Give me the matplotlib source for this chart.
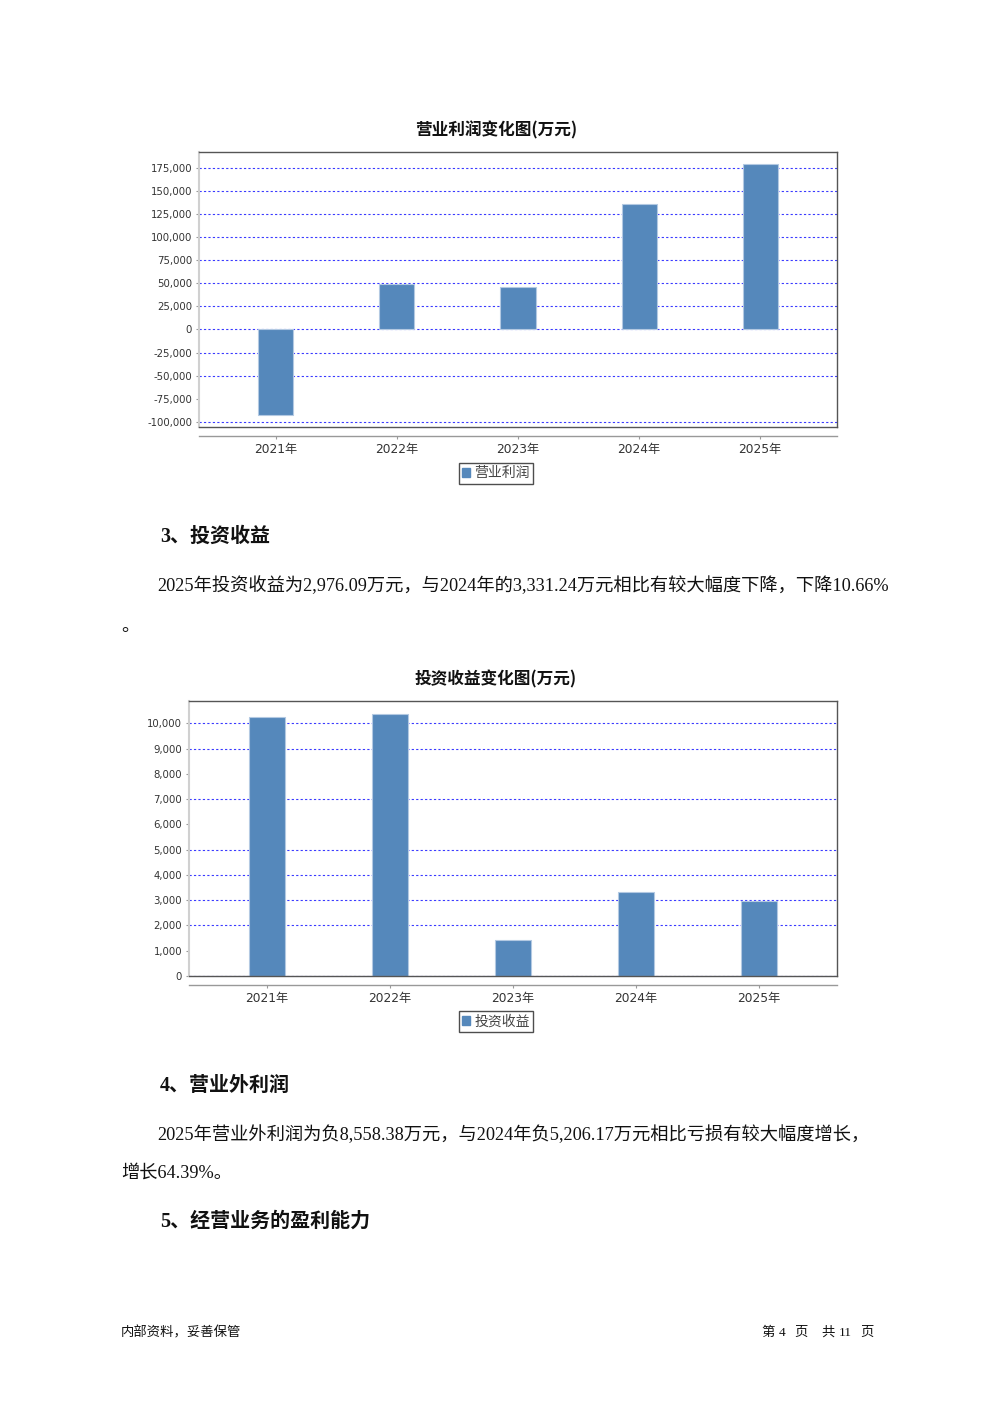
import matplotlib
matplotlib.use('Agg')
import matplotlib.pyplot as plt
from matplotlib.patches import Rectangle
from matplotlib.ticker import FuncFormatter

# ---------------- data ----------------
years = ['2021年', '2022年', '2023年', '2024年', '2025年']
op_profit = [-92200, 49000, 45700, 136100, 178900]          # 营业利润 (万元)
inv_income = [10250, 10370, 1415, 3331.24, 2976.09]         # 投资收益 (万元)
op_ticks = list(range(-100000, 175001, 25000))
inv_ticks = list(range(0, 10001, 1000))
op_hidden_grid = [-75000]
inv_hidden_grid = [8000, 6000, 1000]

title1 = '营业利润变化图(万元)'
title2 = '投资收益变化图(万元)'
legend1 = '营业利润'
legend2 = '投资收益'

heading3 = '3、投资收益'
para3 = '2025年投资收益为2,976.09万元，与2024年的3,331.24万元相比有较大幅度下降，下降10.66%'
para3_tail = '。'
heading4 = '4、营业外利润'
para4 = '2025年营业外利润为负8,558.38万元，与2024年负5,206.17万元相比亏损有较大幅度增长，'
para4_tail = '增长64.39%。'
heading5 = '5、经营业务的盈利能力'
footer_left = '内部资料，妥善保管'
footer_right = ['第', '4', '页', '共', '11', '页']

# ---------------- style ----------------
CJK = ['Noto Sans CJK SC', 'DejaVu Sans']
SANS = ['DejaVu Sans', 'Noto Sans CJK SC']
SERIF = ['Liberation Serif', 'Noto Sans CJK SC']
plt.rcParams['font.family'] = SANS

W, H = 992, 1403
fig = plt.figure(figsize=(W / 100, H / 100), dpi=100)
fig.patch.set_facecolor('white')

BAR = '#5588bb'
GRID = '#3a3aff'
PX = 72 / 100  # points per pixel


def fy(y):
    return 1 - y / H


def make_chart(rect_px, values, ticks, hidden, title, title_y, legend_label, legend_y):
    l, t, r, b = rect_px
    ax = fig.add_axes([l / W, 1 - b / H, (r - l) / W, (b - t) / H])
    xs = list(range(len(years)))
    ax.bar(xs, values, width=0.29, color=BAR, edgecolor='#b3c9e2',
           linewidth=0.8, zorder=3)
    vmin = min(0, min(values))
    vmax = max(values)
    span = vmax - vmin
    lo = vmin - 0.05 * span if vmin < 0 else 0
    ax.set_ylim(lo, vmax + 0.05 * span)
    ax.set_xlim(-0.635, len(years) - 1 + 0.635)
    ax.set_yticks(ticks)
    ax.yaxis.set_major_formatter(FuncFormatter(lambda v, p: f'{v:,.0f}'.replace('\u2212', '-')))
    for v in ticks:
        if v in hidden:
            continue
        ax.axhline(v, color=GRID, linestyle=(0, (2, 2)), linewidth=0.8, zorder=1)
    ax.set_xticks(xs)
    ax.set_xticklabels(years)
    ax.tick_params(axis='y', length=2, width=0.8, color='#999999', pad=3,
                   labelsize=7.3, labelcolor='#333333')
    ax.tick_params(axis='x', length=2, width=0.8, color='#999999', pad=3.2,
                   labelsize=8.8, labelcolor='#333333')
    for s in ('top', 'right'):
        ax.spines[s].set_color('#555555')
        ax.spines[s].set_linewidth(1)
    ax.spines['left'].set_color('#d0d0d0')
    ax.spines['left'].set_linewidth(1.5)
    ax.spines['bottom'].set_position(('outward', 9 * PX))
    ax.spines['bottom'].set_color('#999999')
    ax.spines['bottom'].set_linewidth(1)
    ax.plot([0, 1], [0, 0], transform=ax.transAxes, color='#555555',
            linewidth=1, clip_on=False, zorder=5)
    fig.text(496 / W, fy(title_y), title, ha='center', va='center',
             fontsize=12, fontweight='bold', fontfamily=CJK, color='#111111')
    leg = fig.legend([Rectangle((0, 0), 1, 1, color=BAR)], [legend_label],
                     loc='upper center', bbox_to_anchor=(496 / W, fy(legend_y)),
                     frameon=True, fancybox=False, handlelength=0.6,
                     handleheight=0.6, handletextpad=0.3, borderpad=0.25,
                     borderaxespad=0, prop={'family': CJK, 'size': 10})
    leg.get_frame().set_edgecolor('#222222')
    leg.get_frame().set_linewidth(1)
    for txt in leg.get_texts():
        txt.set_color('#444444')
    return ax


make_chart((199, 152, 837, 427), op_profit, op_ticks, op_hidden_grid,
           title1, 130, legend1, 463)
make_chart((189, 701, 837, 976), inv_income, inv_ticks, inv_hidden_grid,
           title2, 679, legend2, 1011)

# ---------------- body text ----------------
HEAD = dict(fontsize=14.4, fontweight='bold', fontfamily=SERIF, va='center', color='#111111')
BODY = dict(fontsize=13.15, fontfamily=SERIF, va='center', color='#111111')
FOOT = dict(fontsize=9.6, fontfamily=SERIF, va='center', color='#111111')

fig.text(160 / W, fy(537), heading3, **HEAD)
fig.text(157 / W, fy(586), para3, **BODY)
fig.text(121 / W, fy(626), para3_tail, **BODY)
fig.text(160 / W, fy(1086), heading4, **HEAD)
fig.text(157 / W, fy(1135), para4, **BODY)
fig.text(121 / W, fy(1173), para4_tail, **BODY)
fig.text(160 / W, fy(1222), heading5, **HEAD)
fig.text(121 / W, fy(1333), footer_left, **FOOT)
for s, x in zip(footer_right, [761, 779, 794, 821, 839, 860]):
    fig.text(x / W, fy(1333), s, **FOOT)

fig.savefig('out.png', dpi=100, facecolor='white')
